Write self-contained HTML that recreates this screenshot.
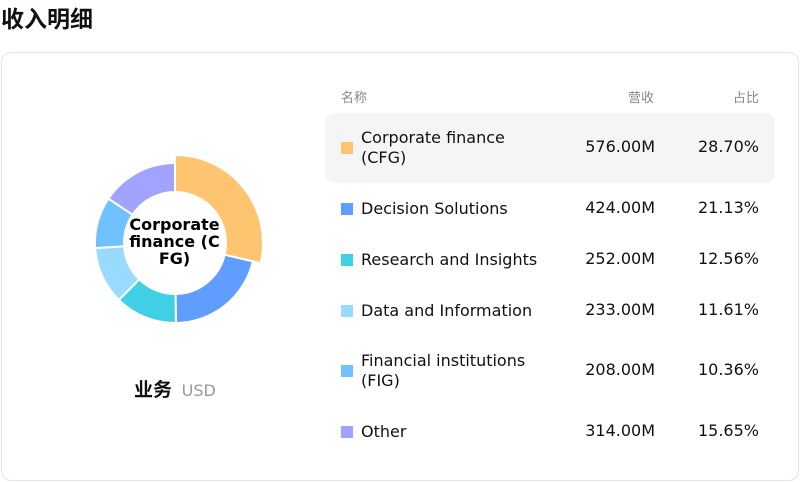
<!DOCTYPE html>
<html><head><meta charset="utf-8"><style>
body{margin:0;width:800px;height:482px;background:#fff;font-family:"DejaVu Sans","Noto Sans CJK SC",sans-serif;position:relative;overflow:hidden}
.t{position:absolute;white-space:nowrap}
#title{left:1px;top:0px;font-size:23px;font-weight:bold;color:#111}
#card{position:absolute;left:1px;top:52px;width:796px;height:427px;border:1px solid #e3e3e8;border-radius:10px}
.hdr{font-size:13px;color:#888;top:87px}
.row{position:absolute;left:325px;width:450px;font-size:16px;color:#111}
.sq{position:absolute;left:16px;width:12px;height:12px}
.nm{position:absolute;left:36px;line-height:20px}
.rv{position:absolute;right:120px}
.pc{position:absolute;right:16px}
</style></head><body>
<div id="title" class="t">收入明细</div>
<div id="card"></div>
<svg id="donut" width="800" height="482" style="position:absolute;left:0;top:0"></svg>
<div class="t" style="left:126px;top:216px;width:97px;text-align:center;font-weight:bold;font-size:16px;line-height:17px;white-space:normal;word-break:break-all">Corporate finance (CFG)</div>
<div class="t" style="left:134px;top:375px;font-size:19px;font-weight:bold;color:#111">业务 <span style="font-size:16px;font-weight:normal;color:#999;margin-left:3px">USD</span></div>
<div class="t hdr" style="left:341px">名称</div>
<div class="t hdr" style="right:146px">营收</div>
<div class="t hdr" style="right:41px">占比</div>
<div id="rows"></div>
<script>
const categories=["Corporate finance (CFG)","Decision Solutions","Research and Insights","Data and Information","Financial institutions (FIG)","Other"];
const revenue=[576,424,252,233,208,314];
const shares=["28.70%","21.13%","12.56%","11.61%","10.36%","15.65%"];
const colors=["#FFC470","#5F9EFF","#40D0E6","#99DBFF","#70C1FF","#A0A3FF"];
const svg=document.getElementById('donut');
const cx=175,cy=243,r0=51,r1=80,rh=88;
const total=revenue.reduce((a,b)=>a+b,0);
let a=-Math.PI/2;
function pt(r,t){return [cx+r*Math.cos(t),cy+r*Math.sin(t)];}
revenue.forEach((v,i)=>{
 const b=a+v/total*2*Math.PI;const R=i===0?rh:r1;const lg=(b-a)>Math.PI?1:0;
 const p1=pt(R,a),p2=pt(R,b),p3=pt(r0,b),p4=pt(r0,a);
 const p=document.createElementNS('http://www.w3.org/2000/svg','path');
 p.setAttribute('d',`M${p1}A${R},${R} 0 ${lg} 1 ${p2}L${p3}A${r0},${r0} 0 ${lg} 0 ${p4}Z`);
 p.setAttribute('fill',colors[i]);p.setAttribute('stroke','#fff');p.setAttribute('stroke-width','2');
 
 
 svg.appendChild(p);a=b;
});
const tops=[113,183,234,285,336,406],hs=[70,51,51,51,70,51];
const rows=document.getElementById('rows');
categories.forEach((c,i)=>{
 const d=document.createElement('div');d.className='row';
 
 
 d.style.top=tops[i]+'px';d.style.height=hs[i]+'px';
 if(i===0){d.style.background='#f5f5f5';d.style.borderRadius='10px';}
 const mid=hs[i]/2;
 const lines=(i===0||i===4)?2:1;
 const nameTxt=i===0?'Corporate finance<br>(CFG)':i===4?'Financial institutions<br>(FIG)':c;
 d.innerHTML=`<div class="sq" style="top:${mid-6}px;background:${colors[i]}"></div>`+
 `<div class="nm" style="top:${mid-lines*10}px">${nameTxt}</div>`+
 `<div class="rv" style="top:${mid-11}px">${revenue[i].toFixed(2)}M</div>`+
 `<div class="pc" style="top:${mid-11}px">${shares[i]}</div>`;
 rows.appendChild(d);
});
</script>
</body></html>
